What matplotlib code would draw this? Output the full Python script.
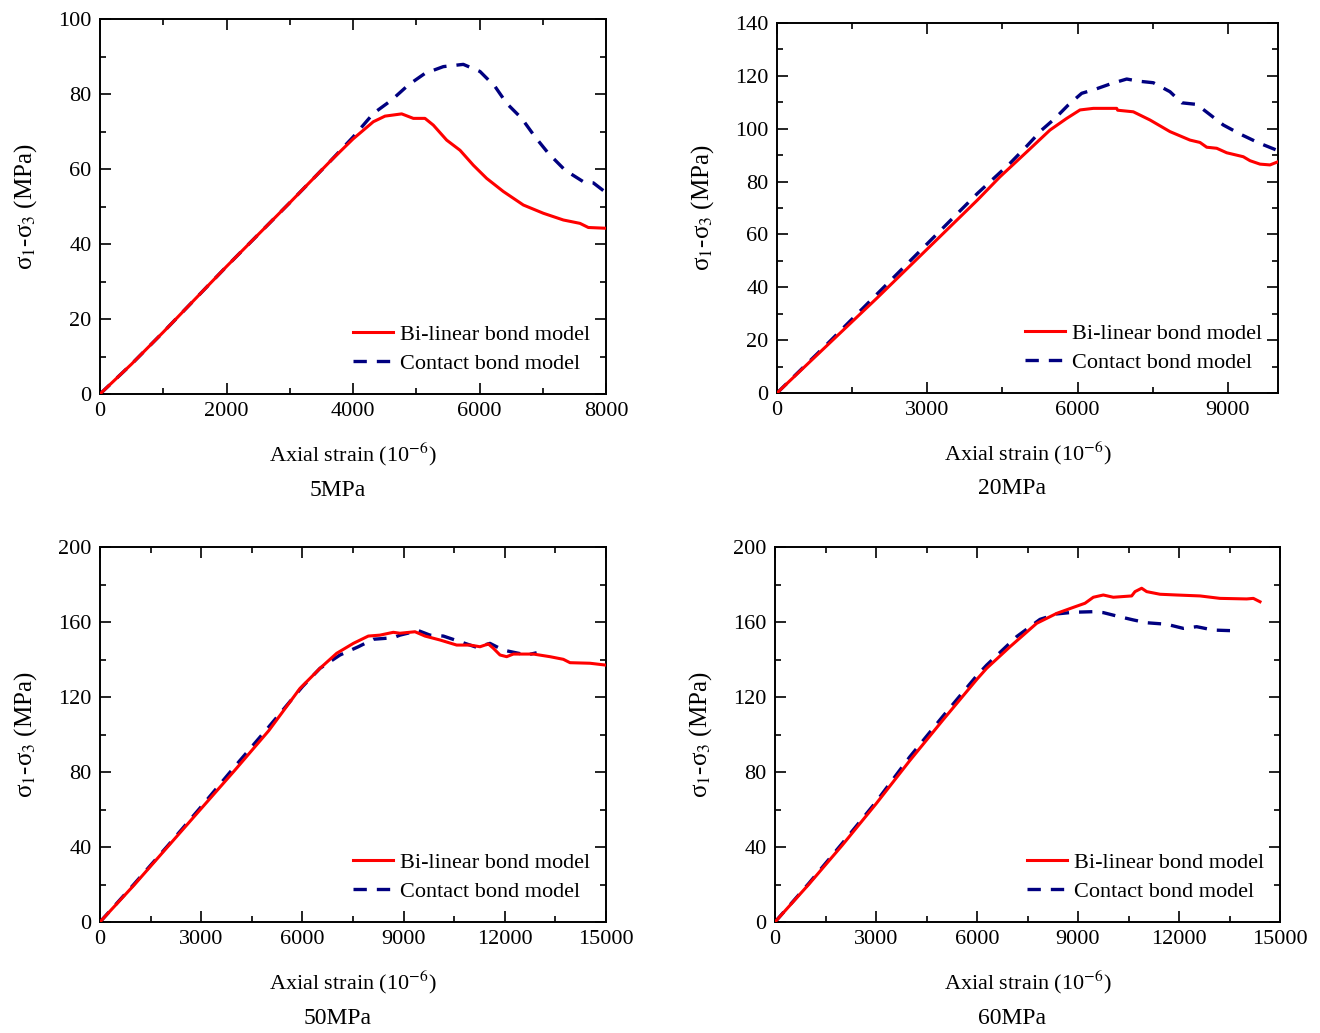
import matplotlib
matplotlib.use('Agg')
import matplotlib.pyplot as plt
from matplotlib.ticker import AutoMinorLocator

plt.rcParams['font.family'] = ['Liberation Serif', 'DejaVu Serif']
plt.rcParams['mathtext.fontset'] = 'stix'
plt.rcParams['font.size'] = 16

# 5MPa
x5_bl = [0, 500, 1000, 2000, 3000, 3636, 4000, 4321, 4506, 4770, 4954, 5138, 5270, 5481, 5692, 5903, 6113, 6377, 6693, 7009, 7326, 7589, 7721, 8000]
y5_bl = [0, 8, 16.5, 34, 51, 62, 68, 72.6, 74.1, 74.7, 73.5, 73.5, 71.7, 67.7, 65, 61, 57.5, 54, 50.4, 48.2, 46.4, 45.5, 44.4, 44.2]
x5_cb = [0, 500, 1000, 2000, 3000, 3636, 4000, 4321, 4612, 4875, 5138, 5428, 5744, 6008, 6245, 6430, 6667, 6877, 7088, 7352, 7642, 7800, 8000]
y5_cb = [0, 8, 16.5, 34, 51, 62, 68.5, 74.8, 78.4, 82.4, 85.5, 87.3, 87.9, 86, 82, 77.5, 73.5, 68.6, 64.2, 59.7, 56.6, 56.3, 53.7]

# 20MPa
x20_bl = [0, 1000, 2000, 3000, 4000, 4451, 5000, 5449, 5782, 6048, 6314, 6780, 6800, 7112, 7445, 7844, 8243, 8443, 8577, 8777, 8976, 9307, 9441, 9641, 9840, 10000]
y20_bl = [0, 18, 36, 54.5, 73, 81.8, 91.5, 99.5, 103.9, 107.1, 107.7, 107.7, 107, 106.4, 103.3, 98.9, 95.7, 94.8, 93, 92.6, 90.9, 89.4, 87.9, 86.6, 86.3, 87.5]
x20_cb = [0, 1000, 2000, 3000, 4000, 4651, 4984, 5283, 5549, 5815, 6082, 6347, 6647, 6980, 7212, 7511, 7844, 8078, 8377, 8610, 8909, 9242, 9607, 9973]
y20_cb = [0, 18.5, 37.5, 56.5, 75.5, 86.9, 93.4, 99.5, 103.9, 109, 113.4, 114.9, 116.9, 118.8, 118, 117.4, 114, 109.8, 109.2, 105.8, 101.4, 98, 94.7, 91.9]

# 50MPa
x50_bl = [0, 1000, 2000, 3000, 4000, 5000, 5929, 6522, 7016, 7510, 7954, 8300, 8695, 8893, 9338, 9634, 10079, 10573, 10968, 11265, 11512, 11660, 11858, 12055, 12253, 12846, 13340, 13735, 13933, 14526, 15000]
y50_bl = [0, 19.5, 40, 60.5, 81, 102, 124.6, 135.3, 143.3, 148.6, 152.5, 153, 154.5, 154, 154.8, 152.5, 150.4, 147.7, 147.7, 146.8, 148.3, 146, 142.4, 141.5, 142.9, 142.9, 141.5, 140.1, 138.3, 138, 137]
x50_cb = [0, 1000, 2000, 3000, 4000, 5000, 6000, 6522, 7115, 7658, 8102, 8695, 8893, 9437, 9783, 10178, 10672, 11166, 11561, 11956, 12648, 12945]
y50_cb = [0, 20, 40.5, 61.5, 83, 104, 125.5, 135.3, 142.4, 146.8, 150.8, 151.6, 153, 155.4, 153, 152.5, 149.5, 146.5, 148.6, 145, 142.4, 143.6]

# 60MPa
x60_bl = [0, 1000, 2000, 3000, 4000, 5000, 6000, 6287, 6980, 7773, 8368, 8861, 9208, 9455, 9752, 10049, 10594, 10693, 10891, 11040, 11436, 11931, 12624, 13218, 14010, 14208, 14406]
y60_bl = [0, 20, 41, 63, 86, 108, 129.5, 135.3, 146.8, 159.3, 164.6, 167.8, 170, 173.2, 174.4, 173.2, 173.9, 176.2, 178, 176.2, 174.8, 174.4, 173.9, 172.6, 172.3, 172.6, 170.8]
x60_cb = [0, 1000, 2000, 3000, 4000, 5000, 6000, 6287, 7178, 7871, 8368, 8861, 9455, 9752, 10148, 10643, 11040, 11634, 12128, 12525, 13019, 13515]
y60_cb = [0, 20.5, 42, 64, 88, 110, 131.5, 137, 152.2, 161.4, 164.3, 165.2, 165.5, 165, 163.2, 161.1, 159.6, 158.8, 156.6, 157.5, 155.7, 155.4]

panels = [
    ('5MPa', x5_bl, y5_bl, x5_cb, y5_cb, 8000, 2000, 100, 20),
    ('20MPa', x20_bl, y20_bl, x20_cb, y20_cb, 10000, 3000, 140, 20),
    ('50MPa', x50_bl, y50_bl, x50_cb, y50_cb, 15000, 3000, 200, 40),
    ('60MPa', x60_bl, y60_bl, x60_cb, y60_cb, 15000, 3000, 200, 40),
]

# axes boxes in pixels: left, right, top, bottom
boxes = [(100, 606, 19, 394), (777, 1278, 23, 393), (100, 606, 547, 922), (775, 1280, 547, 922)]
W, H = 1320, 1033

fig = plt.figure(figsize=(13.2, 10.33), dpi=100)
for (name, xb, yb, xc, yc, xmax, xstep, ymax, ystep), (l, r, t, b) in zip(panels, boxes):
    ax = fig.add_axes([l / W, 1 - b / H, (r - l) / W, (b - t) / H])
    ax.plot(xb, yb, color='red', lw=2.2, label='Bi-linear bond model', zorder=3)
    ax.plot(xc, yc, color='#000080', lw=2.4, ls=(0, (4, 3)), label='Contact bond model', zorder=2)
    ax.set_xlim(0, xmax)
    ax.set_ylim(0, ymax)
    ax.set_xticks(range(0, xmax + 1, xstep))
    ax.set_yticks(range(0, ymax + 1, ystep))
    ax.xaxis.set_minor_locator(AutoMinorLocator(2))
    ax.yaxis.set_minor_locator(AutoMinorLocator(2))
    ax.tick_params(which='both', direction='in', top=True, right=True, width=1.2)
    ax.tick_params(which='major', length=8, labelsize=16, pad=6)
    ax.tick_params(which='minor', length=4)
    for s in ax.spines.values():
        s.set_linewidth(1.4)
    ax.set_xlabel('Axial strain (10$^{-6}$)', fontsize=16, labelpad=14)
    ax.set_ylabel('σ$_{1}$-σ$_{3}$ (MPa)', fontsize=18, labelpad=14)
    ax.legend(loc='lower right', bbox_to_anchor=(1.0, 0.012), frameon=False, fontsize=16,
              handlelength=1.8, handletextpad=0.35, labelspacing=0.38, borderaxespad=0.3)
    ax.text(0.47, -0.258, name, transform=ax.transAxes, ha='center', va='center', fontsize=17)

fig.savefig('out.png', dpi=100)
